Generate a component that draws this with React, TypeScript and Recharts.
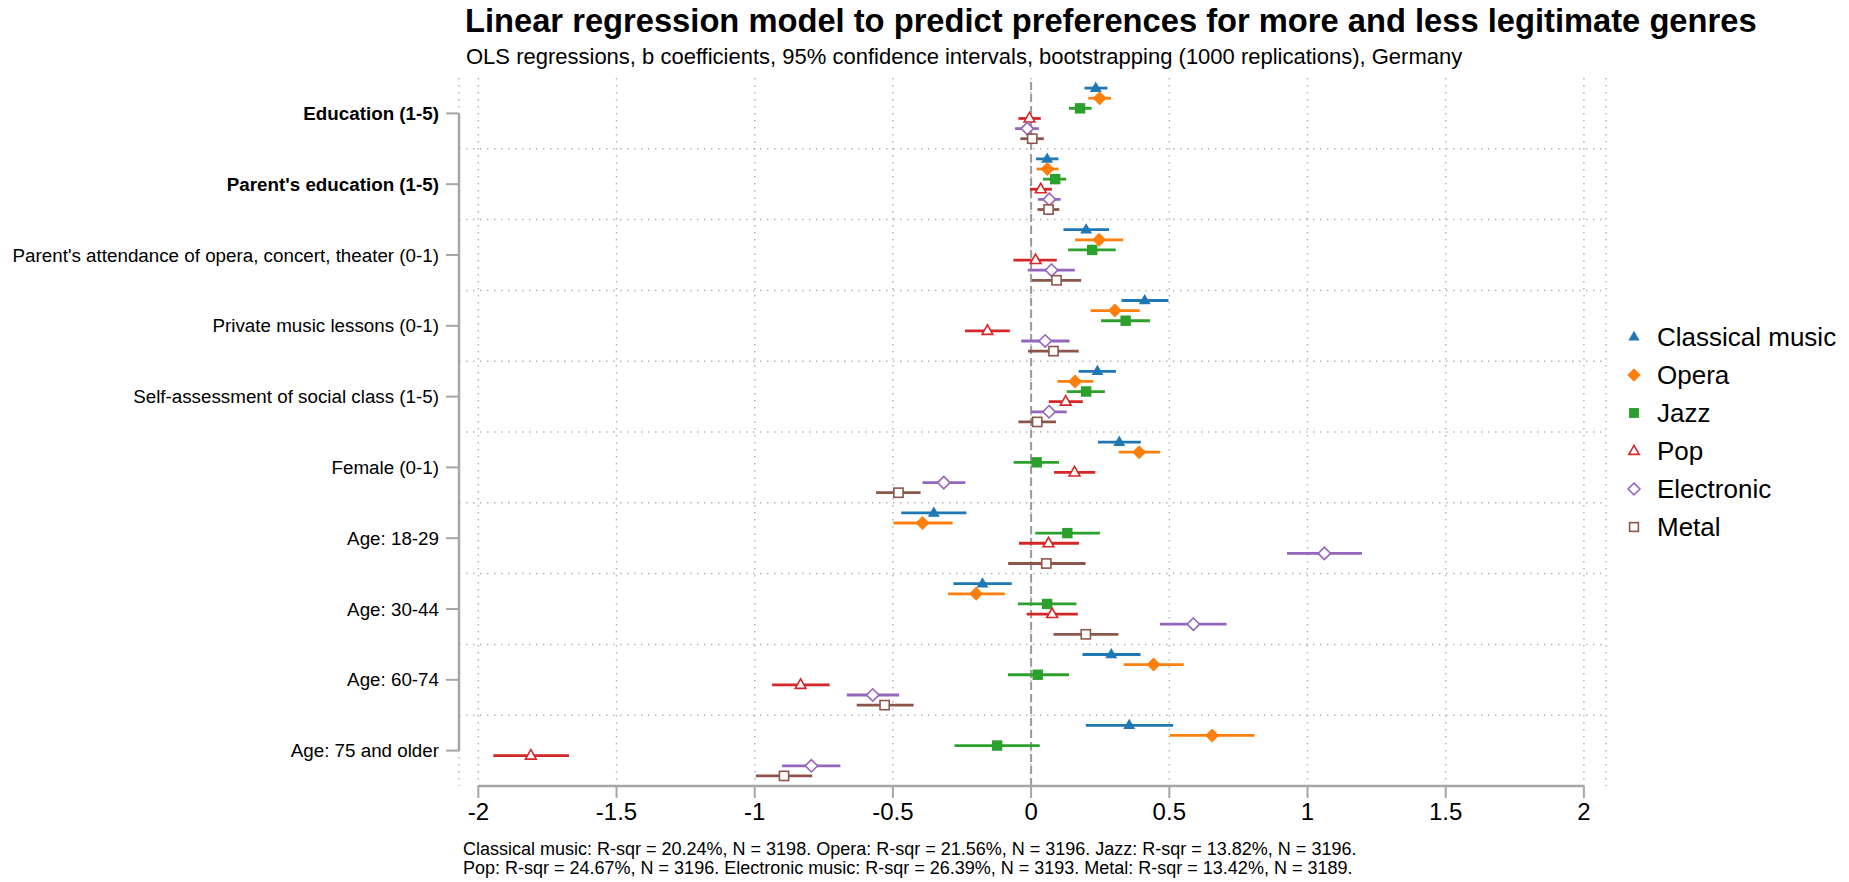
import React from 'react'
import {
  ScatterChart, Scatter, XAxis, YAxis, CartesianGrid, ErrorBar, ReferenceLine,
} from 'recharts'

const FONT = '"Liberation Sans", Arial, Helvetica, sans-serif'

const categories = [
  'Education (1-5)',
  "Parent's education (1-5)",
  "Parent's attendance of opera, concert, theater (0-1)",
  'Private music lessons (0-1)',
  'Self-assessment of social class (1-5)',
  'Female (0-1)',
  'Age: 18-29',
  'Age: 30-44',
  'Age: 60-74',
  'Age: 75 and older',
]
const boldCategories = ['Education (1-5)', "Parent's education (1-5)"]

const xTicks = [-2, -1.5, -1, -0.5, 0, 0.5, 1, 1.5, 2]

// b coefficients and 95% CI bounds, one entry per category (same order as above)
const classicalB = [0.234, 0.058, 0.199, 0.411, 0.240, 0.319, -0.352, -0.176, 0.290, 0.355]
const classicalLo = [0.193, 0.018, 0.117, 0.327, 0.172, 0.242, -0.470, -0.281, 0.186, 0.198]
const classicalHi = [0.276, 0.099, 0.282, 0.497, 0.307, 0.397, -0.234, -0.070, 0.396, 0.514]

const operaB = [0.248, 0.059, 0.246, 0.303, 0.159, 0.391, -0.393, -0.199, 0.443, 0.655]
const operaLo = [0.207, 0.020, 0.159, 0.215, 0.095, 0.317, -0.498, -0.301, 0.335, 0.502]
const operaHi = [0.289, 0.099, 0.333, 0.393, 0.225, 0.467, -0.284, -0.095, 0.552, 0.808]

const jazzB = [0.177, 0.087, 0.221, 0.342, 0.199, 0.020, 0.131, 0.058, 0.024, -0.123]
const jazzLo = [0.137, 0.043, 0.134, 0.253, 0.129, -0.063, 0.015, -0.048, -0.084, -0.277]
const jazzHi = [0.219, 0.127, 0.306, 0.430, 0.267, 0.101, 0.249, 0.164, 0.137, 0.031]

const popB = [-0.006, 0.035, 0.016, -0.158, 0.125, 0.157, 0.063, 0.076, -0.834, -1.810]
const popLo = [-0.046, -0.004, -0.064, -0.239, 0.064, 0.083, -0.044, -0.016, -0.937, -1.946]
const popHi = [0.035, 0.075, 0.093, -0.077, 0.187, 0.232, 0.173, 0.169, -0.729, -1.672]

const electronicB = [-0.014, 0.066, 0.074, 0.051, 0.065, -0.316, 1.061, 0.587, -0.573, -0.795]
const electronicLo = [-0.058, 0.025, -0.012, -0.036, 0.001, -0.393, 0.926, 0.466, -0.667, -0.901]
const electronicHi = [0.028, 0.107, 0.158, 0.139, 0.129, -0.238, 1.197, 0.707, -0.478, -0.690]

const metalB = [0.004, 0.063, 0.092, 0.081, 0.022, -0.480, 0.055, 0.198, -0.530, -0.894]
const metalLo = [-0.039, 0.023, 0.003, -0.011, -0.046, -0.561, -0.083, 0.081, -0.631, -0.996]
const metalHi = [0.046, 0.102, 0.181, 0.172, 0.090, -0.400, 0.197, 0.316, -0.425, -0.792]

const series = [
  { name: 'Classical music', color: '#1f77b4', mark: 'triangle', b: classicalB, lo: classicalLo, hi: classicalHi },
  { name: 'Opera', color: '#ff7f0e', mark: 'diamond', b: operaB, lo: operaLo, hi: operaHi },
  { name: 'Jazz', color: '#2ca02c', mark: 'square', b: jazzB, lo: jazzLo, hi: jazzHi },
  { name: 'Pop', color: '#d62728', mark: 'triangleOpen', b: popB, lo: popLo, hi: popHi },
  { name: 'Electronic', color: '#9467bd', mark: 'diamondOpen', b: electronicB, lo: electronicLo, hi: electronicHi },
  { name: 'Metal', color: '#8c564b', mark: 'squareOpen', b: metalB, lo: metalLo, hi: metalHi },
]

const footnote = [
  'Classical music: R-sqr = 20.24%, N = 3198. Opera: R-sqr = 21.56%, N = 3196. Jazz: R-sqr = 13.82%, N = 3196.',
  'Pop: R-sqr = 24.67%, N = 3196. Electronic music: R-sqr = 26.39%, N = 3193. Metal: R-sqr = 13.42%, N = 3189.',
]

const X_MIN = -2.07
const X_MAX = 2.08
const ROW_STEP = 0.143
const AXIS_GRAY = '#a6a6a6'
const GRID_GRAY = '#b4b4b4'

const seriesData = series.map((s, si) =>
  s.b.map((b, ci) => ({
    x: b,
    y: ci + 0.5 + (si - 2.5) * ROW_STEP,
    err: [b - s.lo[ci], s.hi[ci] - b],
  }))
)

function Mark({ kind, color, cx, cy, scale = 1 }: { kind: string; color: string; cx: number; cy: number; scale?: number }) {
  const k = scale
  switch (kind) {
    case 'triangle':
      return <polygon points={`${cx},${cy - 6.5 * k} ${cx - 6 * k},${cy + 3.8 * k} ${cx + 6 * k},${cy + 3.8 * k}`} fill={color} />
    case 'diamond':
      return <polygon points={`${cx},${cy - 7 * k} ${cx + 7 * k},${cy} ${cx},${cy + 7 * k} ${cx - 7 * k},${cy}`} fill={color} />
    case 'square':
      return <rect x={cx - 5.2 * k} y={cy - 5.2 * k} width={10.4 * k} height={10.4 * k} fill={color} />
    case 'triangleOpen':
      return <polygon points={`${cx},${cy - 6 * k} ${cx - 5.4 * k},${cy + 3.5 * k} ${cx + 5.4 * k},${cy + 3.5 * k}`} fill="#fff" stroke={color} strokeWidth={1.6} />
    case 'diamondOpen':
      return <polygon points={`${cx},${cy - 6.2 * k} ${cx + 6.2 * k},${cy} ${cx},${cy + 6.2 * k} ${cx - 6.2 * k},${cy}`} fill="#fff" stroke={color} strokeWidth={1.6} />
    default:
      return <rect x={cx - 4.6 * k} y={cy - 4.6 * k} width={9.2 * k} height={9.2 * k} fill="#fff" stroke={color} strokeWidth={1.6} />
  }
}

function CategoryTick(props: any) {
  const { x, y, payload } = props
  const label = categories[Math.round(payload.value - 0.5)]
  return (
    <text
      x={x} y={y} textAnchor="end" dominantBaseline="central"
      fontSize={18.8} fill="#000"
      fontWeight={boldCategories.includes(label) ? 700 : 400}
    >
      {label}
    </text>
  )
}

function LegendBox() {
  return (
    <div style={{ position: 'absolute', left: 1620, top: 318 }}>
      {series.map(s => (
        <div key={s.name} style={{ display: 'flex', alignItems: 'center', height: 38 }}>
          <svg width={28} height={20}>
            <Mark kind={s.mark} color={s.color} cx={14} cy={10} scale={0.95} />
          </svg>
          <span style={{ fontSize: 26, marginLeft: 9, color: '#000' }}>{s.name}</span>
        </div>
      ))}
    </div>
  )
}

export default function App() {
  return (
    <div style={{ position: 'absolute', left: 0, top: 0, width: 1849, height: 882, background: '#fff', fontFamily: FONT }}>
      <div style={{ position: 'absolute', left: 465, top: 4, fontSize: 32.7, fontWeight: 700, lineHeight: '34px', whiteSpace: 'nowrap' }}>
        Linear regression model to predict preferences for more and less legitimate genres
      </div>
      <div style={{ position: 'absolute', left: 466, top: 45, fontSize: 22, lineHeight: '24px', whiteSpace: 'nowrap' }}>
        OLS regressions, b coefficients, 95% confidence intervals, bootstrapping (1000 replications), Germany
      </div>

      <ScatterChart width={1849} height={882} margin={{ top: 78, right: 243, bottom: 0, left: 0 }}>
        <CartesianGrid horizontal={false} stroke={GRID_GRAY} strokeDasharray="1.5 5.5" strokeWidth={1.5} />
        {[1, 2, 3, 4, 5, 6, 7, 8, 9].map(v => (
          <ReferenceLine key={v} y={v} stroke={GRID_GRAY} strokeDasharray="1.5 5.5" strokeWidth={1.5} />
        ))}
        <XAxis
          type="number" dataKey="x" domain={[X_MIN, X_MAX]} ticks={xTicks} allowDataOverflow
          height={96} axisLine={false}
          tickLine={{ stroke: AXIS_GRAY, strokeWidth: 2 }} tickSize={12} tickMargin={5}
          tick={{ fontSize: 24, fill: '#000' }}
          tickFormatter={v => String(v)}
        />
        <YAxis
          type="number" dataKey="y" domain={[0, 10]} reversed
          ticks={categories.map((_, i) => i + 0.5)} interval={0}
          width={459} axisLine={false}
          tickLine={{ stroke: AXIS_GRAY, strokeWidth: 2 }} tickSize={13} tickMargin={7}
          tick={<CategoryTick />}
        />
        <ReferenceLine x={0} stroke="#999" strokeDasharray="8 4" strokeWidth={2} />
        <ReferenceLine segment={[{ x: -2, y: 10 }, { x: 2, y: 10 }]} stroke={AXIS_GRAY} strokeWidth={2.5} />
        <ReferenceLine segment={[{ x: X_MIN, y: 0.5 }, { x: X_MIN, y: 9.5 }]} stroke={AXIS_GRAY} strokeWidth={2.5} />
        {series.map((s, si) => (
          <Scatter
            key={s.name}
            name={s.name}
            data={seriesData[si]}
            fill={s.color}
            isAnimationActive={false}
            shape={(p: any) => <Mark kind={s.mark} color={s.color} cx={p.cx} cy={p.cy} />}
          >
            <ErrorBar dataKey="err" direction="x" width={0} stroke={s.color} strokeWidth={2.8} isAnimationActive={false} />
          </Scatter>
        ))}
      </ScatterChart>

      <LegendBox />

      <div style={{ position: 'absolute', left: 463, top: 840, fontSize: 18, lineHeight: '19px', whiteSpace: 'nowrap' }}>
        {footnote.map(line => <div key={line}>{line}</div>)}
      </div>
    </div>
  )
}
